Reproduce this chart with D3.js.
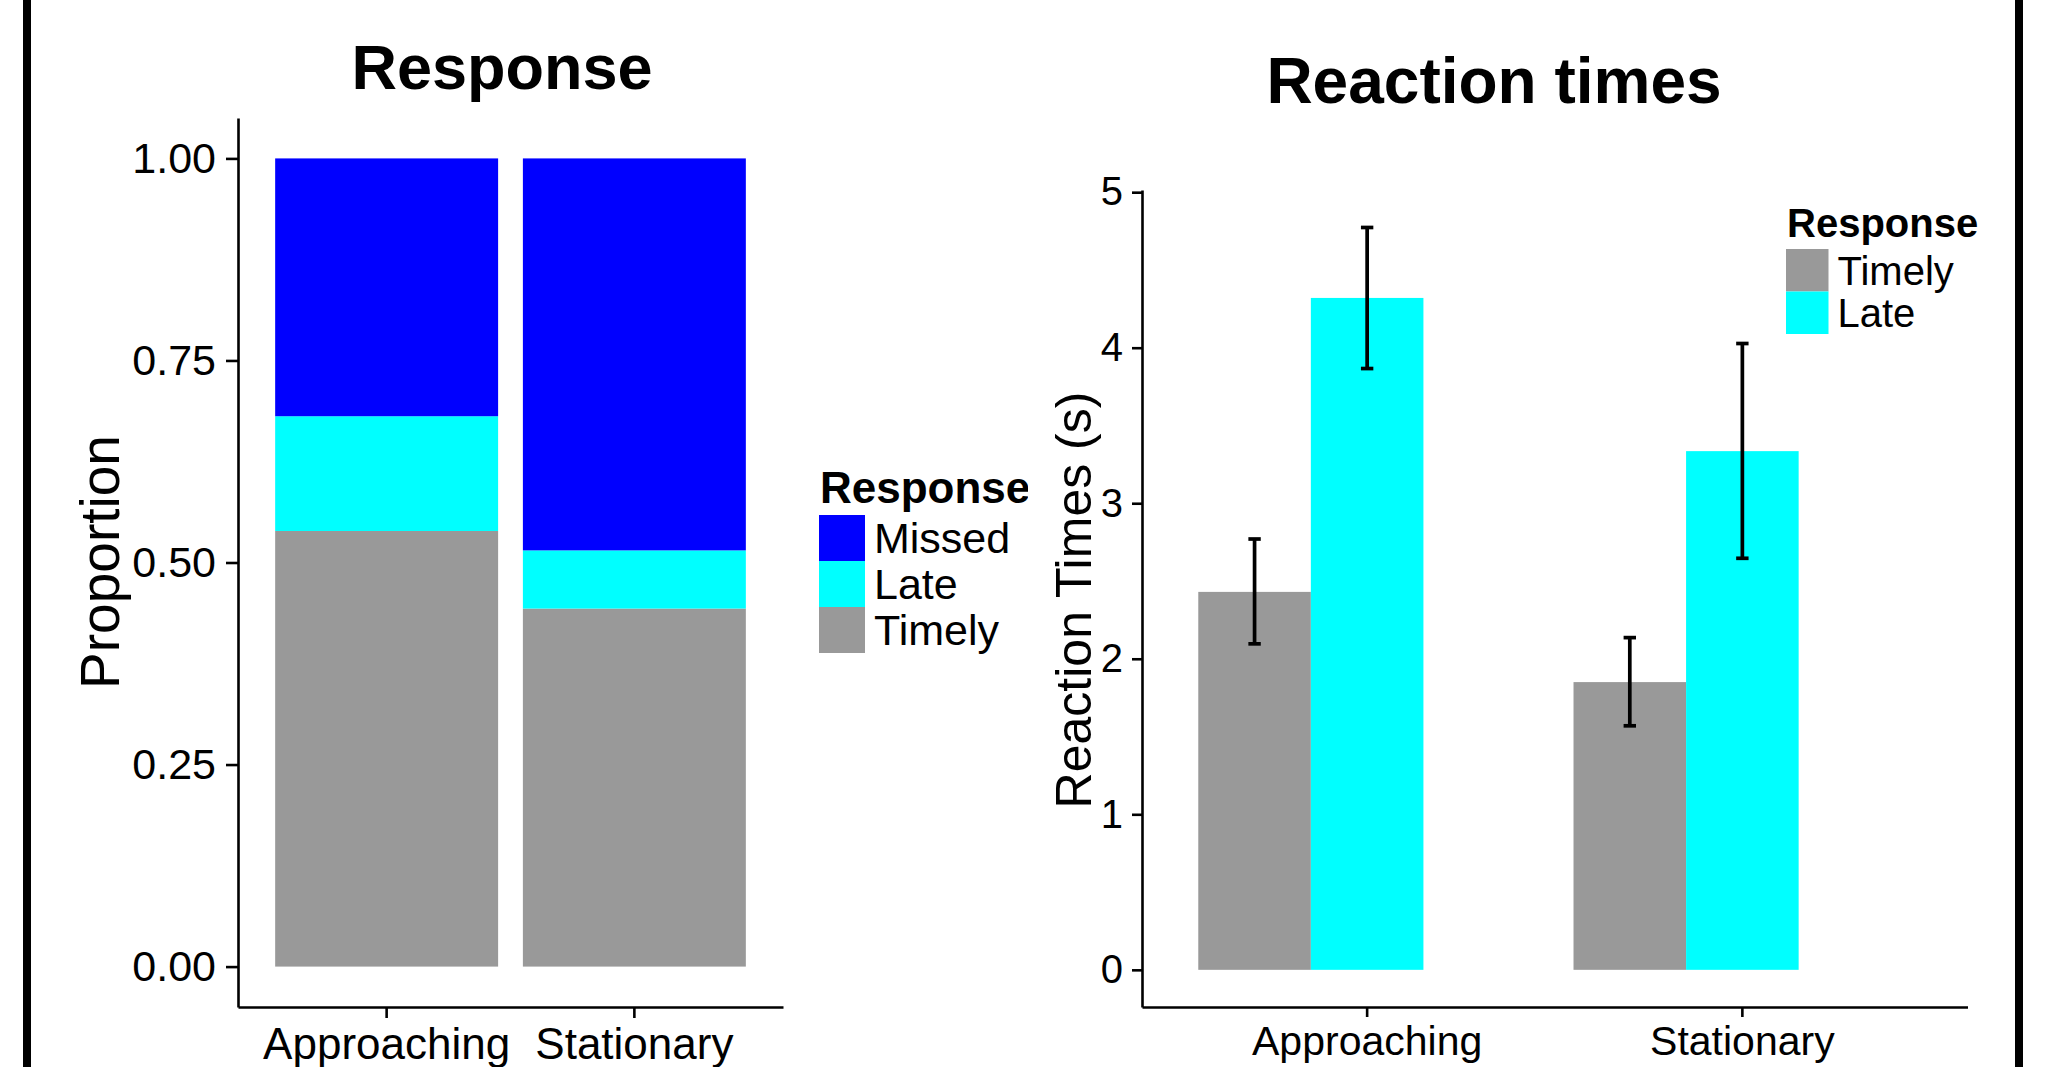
<!DOCTYPE html>
<html>
<head>
<meta charset="utf-8">
<script src="https://cdn.jsdelivr.net/npm/d3@7"></script>
<style>
  body { margin: 0; background: #ffffff; }
  svg { display: block; }
  text { font-family: "Liberation Sans", Arial, sans-serif; }
</style>
</head>
<body>
<div id="chart"></div>
<script>
// conditions and response types
var conditions = ["Approaching", "Stationary"];
var responseTypes = ["Timely", "Late", "Missed"];
var colours = ["#999999", "#00ffff", "#0000ff"];

// left panel: proportion of each response
var propTimely = [0.539, 0.443];
var propLate = [0.142, 0.072];
var propMissed = [0.319, 0.485];
var propTicks = [0, 0.25, 0.5, 0.75, 1];

// right panel: reaction times (mean, error bar low / high)
var rtTimely = [2.43, 1.85];
var rtLate = [4.32, 3.335];
var rtTimelyLow = [2.096, 1.569];
var rtTimelyHigh = [2.77, 2.136];
var rtLateLow = [3.866, 2.646];
var rtLateHigh = [4.773, 4.027];
var rtTicks = [0, 1, 2, 3, 4, 5];

var width = 2060, height = 1067;
var colour = d3.scaleOrdinal().domain(responseTypes).range(colours);

var svg = d3.select("#chart").append("svg")
	.attr("width", width)
	.attr("height", height);

svg.append("defs").append("clipPath")
	.attr("id", "leftclip")
	.append("rect")
	.attr("x", 0).attr("y", 0)
	.attr("width", 1028).attr("height", height);

/**
 * left: stacked proportions
 */
var left = svg.append("g").attr("clip-path", "url(#leftclip)");

var stackRows = conditions.map(function(c, i) {
	return { condition: c, Timely: propTimely[i], Late: propLate[i], Missed: propMissed[i] };
});
var stacked = d3.stack().keys(responseTypes)(stackRows);

var x1 = d3.scaleBand()
	.domain(conditions)
	.range([238, 783])
	.paddingInner(0)
	.paddingOuter(0.1);
var y1 = d3.scaleLinear()
	.domain([-0.05, 1.05])
	.range([1007, 118]);

left.selectAll(".layer")
	.data(stacked)
	.enter()
	.append("g")
	.attr("class", "layer")
	.attr("fill", function(d) { return colour(d.key); })
	.selectAll("rect")
	.data(function(d) { return d; })
	.enter()
	.append("rect")
	.attr("x", function(d) { return x1(d.data.condition) + x1.bandwidth() * 0.05; })
	.attr("width", x1.bandwidth() * 0.9)
	.attr("y", function(d) { return y1(d[1]); })
	.attr("height", function(d) { return y1(d[0]) - y1(d[1]); });

var yAxis1 = left.append("g")
	.attr("transform", "translate(238,0)")
	.call(d3.axisLeft(y1).tickValues(propTicks).tickFormat(d3.format(".2f"))
		.tickSize(12).tickSizeOuter(0).tickPadding(10))
	.attr("font-size", 43)
	.attr("font-family", "Liberation Sans, Arial, sans-serif");
var xAxis1 = left.append("g")
	.attr("transform", "translate(0,1007)")
	.call(d3.axisBottom(x1).tickSize(11).tickSizeOuter(0).tickPadding(10))
	.attr("font-size", 44)
	.attr("font-family", "Liberation Sans, Arial, sans-serif");

left.append("text")
	.attr("x", 502)
	.attr("y", 89)
	.attr("font-size", 63)
	.attr("font-weight", "bold")
	.style("text-anchor", "middle")
	.text("Response");
left.append("text")
	.attr("transform", "translate(119,562) rotate(-90)")
	.attr("font-size", 55)
	.style("text-anchor", "middle")
	.text("Proportion");

createlegend(left, ["Missed", "Late", "Timely"], 820, 503, 819, 515, 46, 43, 44);

/**
 * right: reaction times with error bars
 */
var right = svg.append("g");

var x2 = d3.scaleBand()
	.domain(conditions)
	.range([1142, 1967.5])
	.paddingInner(0)
	.paddingOuter(0.1);
var xSub = d3.scaleBand()
	.domain(responseTypes)
	.range([-x2.bandwidth() * 0.45, x2.bandwidth() * 0.45]);
var y2 = d3.scaleLinear()
	.domain([-0.239, 5.014])
	.range([1007, 190]);

var rtRows = [];
conditions.forEach(function(c, i) {
	rtRows.push({ condition: c, response: "Timely", mean: rtTimely[i], low: rtTimelyLow[i], high: rtTimelyHigh[i] });
	rtRows.push({ condition: c, response: "Late", mean: rtLate[i], low: rtLateLow[i], high: rtLateHigh[i] });
});
function barX(d) { return x2(d.condition) + x2.bandwidth() / 2 + xSub(d.response); }

right.selectAll(".rtbar")
	.data(rtRows)
	.enter()
	.append("rect")
	.attr("class", "rtbar")
	.attr("fill", function(d) { return colour(d.response); })
	.attr("x", barX)
	.attr("width", xSub.bandwidth())
	.attr("y", function(d) { return y2(d.mean); })
	.attr("height", function(d) { return y2(0) - y2(d.mean); });

var err = right.selectAll(".err")
	.data(rtRows)
	.enter()
	.append("g")
	.attr("class", "err")
	.attr("stroke", "#000")
	.attr("stroke-width", 3.7);
err.append("line")
	.attr("x1", function(d) { return barX(d) + xSub.bandwidth() / 2; })
	.attr("x2", function(d) { return barX(d) + xSub.bandwidth() / 2; })
	.attr("y1", function(d) { return y2(d.low); })
	.attr("y2", function(d) { return y2(d.high); });
err.selectAll(".cap")
	.data(function(d) { return [[d, d.low], [d, d.high]]; })
	.enter()
	.append("line")
	.attr("x1", function(p) { return barX(p[0]) + xSub.bandwidth() / 2 - 6.2; })
	.attr("x2", function(p) { return barX(p[0]) + xSub.bandwidth() / 2 + 6.2; })
	.attr("y1", function(p) { return y2(p[1]); })
	.attr("y2", function(p) { return y2(p[1]); });

var yAxis2 = right.append("g")
	.attr("transform", "translate(1142,0)")
	.call(d3.axisLeft(y2).tickValues(rtTicks).tickFormat(d3.format("d"))
		.tickSize(10).tickSizeOuter(0).tickPadding(9))
	.attr("font-size", 40)
	.attr("font-family", "Liberation Sans, Arial, sans-serif");
var xAxis2 = right.append("g")
	.attr("transform", "translate(0,1007)")
	.call(d3.axisBottom(x2).tickSize(10).tickSizeOuter(0).tickPadding(9))
	.attr("font-size", 41)
	.attr("font-family", "Liberation Sans, Arial, sans-serif");

right.append("text")
	.attr("x", 1494)
	.attr("y", 103)
	.attr("font-size", 64)
	.attr("font-weight", "bold")
	.style("text-anchor", "middle")
	.text("Reaction times");
right.append("text")
	.attr("transform", "translate(1091,600) rotate(-90)")
	.attr("font-size", 50)
	.style("text-anchor", "middle")
	.text("Reaction Times (s)");

createlegend(right, ["Timely", "Late"], 1787, 237, 1786, 249, 42.5, 40, 40);

[yAxis1, xAxis1, yAxis2, xAxis2].forEach(function(a) {
	a.selectAll("path, line").attr("stroke", "#000").attr("stroke-width", 2.6);
	a.selectAll("text").attr("fill", "#000");
});

// outer frame, only the sides show
svg.append("rect")
	.attr("x", 27)
	.attr("y", -20)
	.attr("width", 1992)
	.attr("height", height + 40)
	.attr("fill", "none")
	.attr("stroke", "#000")
	.attr("stroke-width", 8);

/**
 * legend with title and square keys
 */
function createlegend(g, keys, titleX, titleY, keyX, keyY, keySize, fontSize, titleSize) {
	g.append("text")
		.attr("x", titleX)
		.attr("y", titleY)
		.attr("font-size", titleSize)
		.attr("font-weight", "bold")
		.text("Response");
	keys.forEach(function(k, i) {
		g.append("rect")
			.attr("x", keyX)
			.attr("y", keyY + i * keySize)
			.attr("width", keySize)
			.attr("height", keySize)
			.attr("fill", colour(k));
		g.append("text")
			.attr("x", keyX + keySize + 9)
			.attr("y", keyY + i * keySize + keySize / 2)
			.attr("dy", "0.36em")
			.attr("font-size", fontSize)
			.text(k);
	});
}
</script>
</body>
</html>
